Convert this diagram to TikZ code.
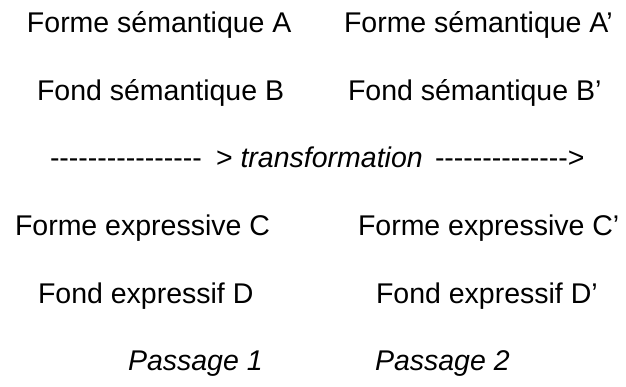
\documentclass[tikz,border=0pt]{standalone}
\usepackage{fontspec}
\setmainfont{Liberation Sans}[Ligatures=TeXOff]
\begin{document}
\begin{tikzpicture}[x=1pt,y=-1pt,
  lbl/.style={anchor=base west,inner sep=0pt,outer sep=0pt,font=\fontsize{28.5}{34}\selectfont}]
\useasboundingbox (0,0) rectangle (626,387);
\node[lbl] (a)  at (27,33)  {Forme sémantique A};
\node[lbl] (a2) at (344,33) {Forme sémantique A’};
\node[lbl] (b)  at (37,100.5) {Fond sémantique B};
\node[lbl] (b2) at (348,100.5) {Fond sémantique B’};
\node[lbl] (t1) at (50,168) {----------------};
\node[lbl] (t2) at (216,168) {> \textit{transformation}};
\node[lbl] (t3) at (435,168) {-------------->};
\node[lbl] (c)  at (15,236) {Forme expressive C};
\node[lbl] (c2) at (358,236) {Forme expressive C’};
\node[lbl] (d)  at (38,303.5) {Fond expressif D};
\node[lbl] (d2) at (376,303.5) {Fond expressif D’};
\node[lbl] (p1) at (128,370.5) {\textit{Passage 1}};
\node[lbl] (p2) at (375,370.5) {\textit{Passage 2}};
\end{tikzpicture}
\end{document}
